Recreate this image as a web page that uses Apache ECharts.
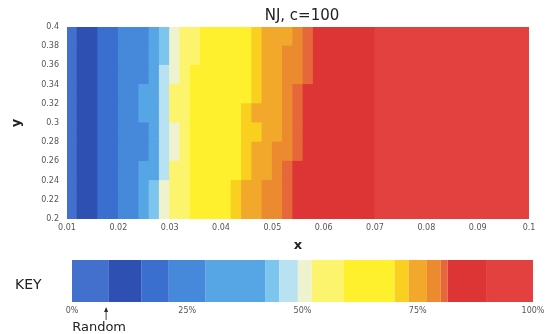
<!DOCTYPE html>
<html><head><meta charset="utf-8">
<script src="https://cdn.jsdelivr.net/npm/echarts@6/dist/echarts.min.js"></script>
<style>html,body{margin:0;padding:0;background:#fff}#c{width:546px;height:334px}</style>
</head><body><div id="c"></div>
<script>
// cell centres of the field (x step 0.002, y step 0.02)
const xCenters = [0.011,0.013,0.015,0.017,0.019,0.021,0.023,0.025,0.027,0.029,0.031,0.033,0.035,0.037,0.039,0.041,0.043,0.045,0.047,0.049,0.051,0.053,0.055,0.057,0.059,0.061,0.063,0.065,0.067,0.069,0.071,0.073,0.075,0.077,0.079,0.081,0.083,0.085,0.087,0.089,0.091,0.093,0.095,0.097,0.099];
const yCenters = [0.39,0.37,0.35,0.33,0.31,0.29,0.27,0.25,0.23,0.21];
const cellHalfW = 0.001, cellHalfH = 0.01;
// percentage field, one row per y centre (top to bottom)
const row039 = [5,10,12,17,19,22,25,27,32,43,50,55,58,62,64,65,66,68,71,74,75,76,79.5,80.5,83,85,86,87,88,89,91,92,92,93,92,93,94,93,92,93,94,93,92,93,92];
const row037 = [5,11,12,17,19,22,25,28,33,44,50,55,58,62,64,65,66,68,71,74,75,77,79.5,80.5,83,85,86,87,88,89,91,92,93,92,93,92,93,94,93,92,93,92,93,92,93];
const row035 = [6,11,13,17,19,22,25,28,35,46,51,56,59,62,64,65,66,68,71,74,75,77,79.5,81,84,85,86,87,88,89,91,92,93,92,93,94,93,92,93,92,93,94,93,92,93];
const row033 = [5,10,12,17,20,23,26,29,38,48,52,56,59,62,64,65,67,69,72,74,76,78,80.5,82,84,85,86,87,88,89,91,92,92,93,93,92,93,94,92,93,92,93,92,93,92];
const row031 = [6,11,12,16,19,23,26,30,40,48,52,56,59,62,64,65,67,70,73,75,76,78,80.5,82,84,85,86,87,88,89,91,92,93,92,93,92,93,92,93,94,93,92,93,92,93];
const row029 = [5,10,12,17,19,22,25,28,36,46,51,56,59,62,64,65,67,70,72,74,76,78,80.5,83,84,85,86,87,88,89,91,92,93,92,93,92,93,92,93,92,93,92,93,92,93];
const row027 = [5,10,12,17,19,22,25,28,36,46,51,56,59,62,64,66,68,71,74,75,77,79.5,81,83,84,85,86,87,88,89,91,92,92,93,92,93,94,93,92,93,92,93,92,93,92];
const row025 = [5,10,12,17,19,22,25,29,38,48,52,57,60,63,65,66,69,72,74,76,78,80.5,82,83,84,85,86,87,88,89,91,92,93,92,93,92,93,92,93,92,93,92,93,92,93];
const row023 = [6,11,12,17,19,22,26,30,43,50,55,58,61,63,65,67,70,73,75,77,79,80.5,82,84,85,85,86,87,88,89,91,92,93,92,93,92,93,92,93,92,93,92,93,92,93];
const row021 = [5,11,12,17,19,22,26,31,44,50,55,58,61,63,65,68,71,74,75,77,79.5,80.5,82,84,85,85,86,87,88,89,91,92,93,92,93,92,93,92,93,92,93,92,93,92,93];
const zRows = [row039,row037,row035,row033,row031,row029,row027,row025,row023,row021];

const xTickMin = 0.01, xTickMax = 0.1, xTickStep = 0.01;
const yTickMin = 0.2, yTickMax = 0.4, yTickStep = 0.02;

// colour key bands (percent edges) and colours
const keyEdges = [0,8,15,21,29,42,45,49,52,59,70,73,77,80,81.5,90,100];
const keyColors = ['#4270cc','#2d50b2','#3a6fcf','#4688da','#56a6e6','#7cc5ef','#b8e2f2','#eef2cf','#fdf46e','#fff02e','#f9d020','#f2a92b','#ec8a30','#e6683a','#dd3535','#e2413f'];
const keyTicks = [0,25,50,75,100];
const randomValue = 7.4;

const chart = echarts.init(document.getElementById('c'));
const cells = [];
zRows.forEach((row, k) => row.forEach((v, i) => cells.push([xCenters[i], yCenters[k], v])));

const pieces = keyColors.map((c, i) => {
  const p = {gte: keyEdges[i], color: c};
  if (i === keyColors.length - 1) p.lte = keyEdges[i + 1]; else p.lt = keyEdges[i + 1];
  return p;
});

const keySeries = keyColors.map((c, i) => ({
  type: 'bar', xAxisIndex: 1, yAxisIndex: 1, stack: 'key',
  barWidth: '100%', silent: true,
  itemStyle: {color: c},
  data: [keyEdges[i + 1] - keyEdges[i]]
}));

function renderCell(params, api) {
  const x = api.value(0), y = api.value(1);
  const p0 = api.coord([x - cellHalfW, y + cellHalfH]);
  const p1 = api.coord([x + cellHalfW, y - cellHalfH]);
  const rect = echarts.graphic.clipRectByRect(
    {x: p0[0] - 0.5, y: p0[1] - 0.5, width: p1[0] - p0[0] + 1, height: p1[1] - p0[1] + 1},
    {x: params.coordSys.x, y: params.coordSys.y, width: params.coordSys.width, height: params.coordSys.height});
  return rect && {type: 'rect', shape: rect, style: {fill: api.visual('color')}};
}

const tickFont = {fontSize: 8, color: '#555', fontFamily: 'DejaVu Sans'};
const fmt2 = v => String(+(+v).toFixed(3));

chart.setOption({
  animation: false,
  title: {text: 'NJ, c=100', left: 297, top: 4, textAlign: 'center',
    textStyle: {fontSize: 15, fontWeight: 'normal', color: '#222', fontFamily: 'DejaVu Sans'}},
  grid: [
    {left: 67, top: 27, width: 462, height: 192, outerBoundsMode: 'none', containLabel: false},
    {left: 72, top: 260, width: 461, height: 42, outerBoundsMode: 'none', containLabel: false}
  ],
  visualMap: {type: 'piecewise', show: false, seriesIndex: 0, dimension: 2, pieces: pieces},
  xAxis: [
    {type: 'value', gridIndex: 0, min: xTickMin, max: xTickMax, interval: xTickStep,
      axisLine: {show: false}, axisTick: {show: false}, splitLine: {show: false},
      axisLabel: Object.assign({margin: 5, formatter: fmt2}, tickFont),
      name: 'x', nameLocation: 'middle', nameGap: 20,
      nameTextStyle: {fontSize: 13, fontWeight: 'bold', color: '#222', fontFamily: 'DejaVu Sans'}},
    {type: 'value', gridIndex: 1, min: 0, max: 100, interval: 25,
      axisLine: {show: false}, axisTick: {show: false}, splitLine: {show: false},
      axisLabel: Object.assign({margin: 5, formatter: '{value}%'}, tickFont)}
  ],
  yAxis: [
    {type: 'value', gridIndex: 0, min: yTickMin, max: yTickMax, interval: yTickStep,
      axisLine: {show: false}, axisTick: {show: false}, splitLine: {show: false},
      axisLabel: Object.assign({margin: 8, formatter: fmt2}, tickFont),
      name: 'y', nameLocation: 'middle', nameGap: 44,
      nameTextStyle: {fontSize: 13, fontWeight: 'bold', color: '#222', fontFamily: 'DejaVu Sans'}},
    {type: 'category', gridIndex: 1, data: ['key'], show: false}
  ],
  series: [
    {type: 'custom', xAxisIndex: 0, yAxisIndex: 0, data: cells, silent: true,
      renderItem: renderCell, encode: {x: 0, y: 1}, clip: true}
  ].concat(keySeries)
});

const px = chart.convertToPixel({xAxisIndex: 1, yAxisIndex: 1}, [randomValue, 0])[0];
chart.setOption({
  graphic: [
    {type: 'text', left: 15, top: 278, style: {text: 'KEY', fontSize: 14, fill: '#222', fontFamily: 'DejaVu Sans'}},
    {type: 'polygon', shape: {points: [[px, 307], [px - 2, 312], [px + 2, 312]]}, style: {fill: '#222'}},
    {type: 'line', shape: {x1: px, y1: 311, x2: px, y2: 320}, style: {stroke: '#444', lineWidth: 1}},
    {type: 'text', x: px - 7, y: 321, style: {text: 'Random', fontSize: 13, fill: '#222', fontFamily: 'DejaVu Sans', align: 'center', verticalAlign: 'top'}}
  ]
});
</script>
</body></html>
